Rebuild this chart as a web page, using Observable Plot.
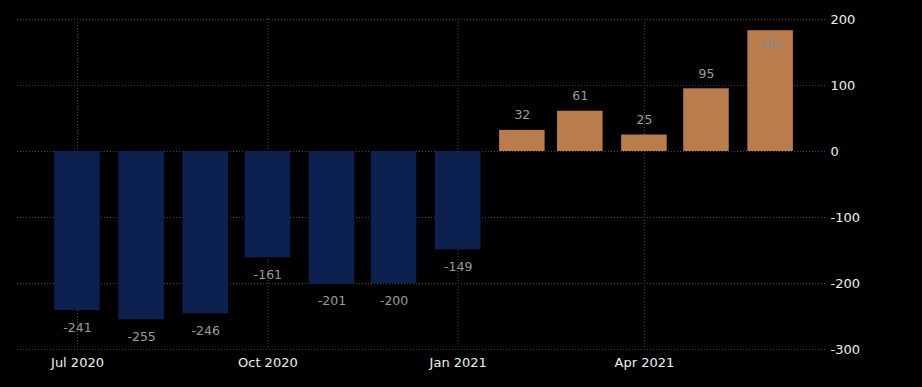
<!DOCTYPE html>
<html>
<head>
<meta charset="utf-8">
<script src="https://cdn.jsdelivr.net/npm/d3@7"></script>
<script src="https://cdn.jsdelivr.net/npm/@observablehq/plot@0.6"></script>
<style>
  html, body { margin: 0; padding: 0; background: #000; }
  #chart { width: 922px; height: 387px; }
</style>
</head>
<body>
<div id="chart"></div>
<script>
const months = ["2020-07-01","2020-08-01","2020-09-01","2020-10-01","2020-11-01","2020-12-01",
                "2021-01-01","2021-02-01","2021-03-01","2021-04-01","2021-05-01","2021-06-01"];
const values = [-241, -255, -246, -161, -201, -200, -149, 32, 61, 25, 95, 183];
const xTicks = ["2020-07-01","2020-10-01","2021-01-01","2021-04-01"];
const yTicks = [-300, -200, -100, 0, 100, 200];

const data = months.map((m, i) => ({date: new Date(m + "T00:00:00Z"), value: values[i]}));
const tickDates = xTicks.map(d => new Date(d + "T00:00:00Z"));
const fmt = d3.utcFormat("%b %Y");

const chart = Plot.plot({
  width: 922,
  height: 387,
  marginLeft: 17,
  marginRight: 96,
  marginTop: 19,
  marginBottom: 38,
  style: {background: "#000", fontFamily: "DejaVu Sans, sans-serif", fontSize: "12px", color: "#e6e6e6"},
  x: {type: "utc", domain: [new Date("2020-06-02T00:00:00Z"), new Date("2021-06-28T00:00:00Z")]},
  y: {domain: [-300, 200]},
  marks: [
    Plot.gridY(yTicks, {stroke: "#4a4a4a", strokeOpacity: 1, strokeDasharray: "1,2"}),
    Plot.gridX(tickDates, {stroke: "#4a4a4a", strokeOpacity: 1, strokeDasharray: "1,2"}),
    Plot.rect(data, {
      x1: d => d3.utcDay.offset(d.date, -11),
      x2: d => d3.utcDay.offset(d.date, 11),
      y1: 0,
      y2: "value",
      fill: d => d.value >= 0 ? "#b97d4d" : "#0c2150"
    }),
    Plot.text(data, {
      x: "date",
      y: "value",
      text: d => String(d.value),
      fill: "#9c9c9c",
      fontSize: 12.5,
      filter: d => d.value < 0,
      dy: 17
    }),
    Plot.text(data, {
      x: "date",
      y: "value",
      text: d => String(d.value),
      fill: "#9c9c9c",
      fontSize: 12.5,
      filter: d => d.value >= 0 && d.value < 150,
      dy: -15
    }),
    Plot.text(data, {
      x: "date",
      y: "value",
      text: d => String(d.value),
      fill: "#8a8a8a",
      fontSize: 12.5,
      filter: d => d.value >= 150,
      dy: 13
    }),
    Plot.axisY(yTicks, {anchor: "right", tickSize: 0, tickPadding: 4, tickFormat: d => String(d), fill: "#f0f0f0", fontSize: 13, label: null}),
    Plot.axisX(tickDates, {anchor: "bottom", tickSize: 0, tickPadding: 8, tickFormat: fmt, fill: "#f0f0f0", fontSize: 13, label: null})
  ]
});
document.getElementById("chart").appendChild(chart);
</script>
</body>
</html>
